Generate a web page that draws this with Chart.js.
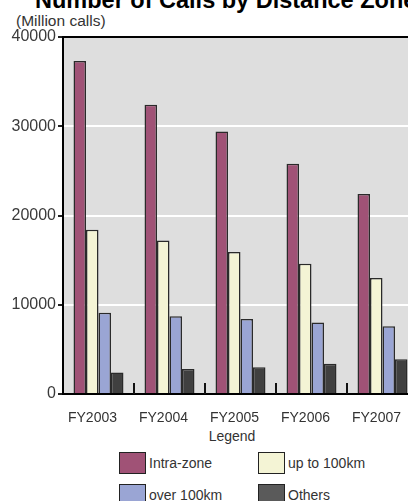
<!DOCTYPE html>
<html>
<head>
<meta charset="utf-8">
<title>Number of Calls by Distance Zone</title>
<script src="https://cdn.jsdelivr.net/npm/chart.js@4.4.1/dist/chart.umd.min.js"></script>
<style>
  html, body { margin: 0; padding: 0; background: #fff; width: 408px; height: 501px; overflow: hidden; }
  body { position: relative; font-family: "Liberation Sans", Arial, sans-serif; }
  #title { position: absolute; left: 35px; top: -13px; font-size: 23.5px; font-weight: bold; color: #000; white-space: nowrap; line-height: 26px; }
  #unit { position: absolute; left: 16px; top: 12px; font-size: 15.5px; color: #333; line-height: 17px; }
  #wrap { position: absolute; left: 0; top: 0; width: 430px; height: 422px; }
  #legendTitle { position: absolute; left: 182px; width: 100px; top: 428px; text-align: center; font-size: 14px; color: #333; line-height: 16px; }
  #legend { position: absolute; left: 119px; top: 452px; display: grid; grid-template-columns: 139px auto; row-gap: 10px; }
  .item { display: flex; align-items: center; height: 22px; font-size: 14px; color: #333; }
  .box { width: 27px; height: 22px; box-sizing: border-box; border: 1.5px solid #222; margin-right: 3px; }
</style>
</head>
<body>
<div id="title">Number of Calls by Distance Zone</div>
<div id="unit">(Million calls)</div>
<div id="wrap"><canvas id="chart" width="430" height="422"></canvas></div>
<div id="legendTitle">Legend</div>
<div id="legend"></div>

<script>
// dados (milhões de chamadas)
const categories = ['FY2003', 'FY2004', 'FY2005', 'FY2006', 'FY2007'];
const intraZone = [37300, 32400, 29400, 25800, 22400];
const upTo100km = [18400, 17200, 15900, 14600, 13000];
const over100km = [9100, 8700, 8400, 8000, 7600];
const others = [2400, 2800, 3000, 3400, 3900];
const yTicks = [0, 10000, 20000, 30000, 40000];

const seriesNames = ['Intra-zone', 'up to 100km', 'over 100km', 'Others'];
const barColors = ['#a05276', '#f4f4d5', '#9aa5d4', '#404040'];
const legendColors = ['#a05276', '#f4f4d5', '#9aa5d4', '#5a5a5a'];

const fontFamily = '"Liberation Sans", Arial, sans-serif';

// fundo cinza da área do gráfico
const plotBackground = {
    id: 'plotBackground',
    beforeDraw(chart) {
        const { ctx, chartArea } = chart;
        ctx.save();
        ctx.fillStyle = '#dedede';
        ctx.fillRect(chartArea.left, chartArea.top, chartArea.right - chartArea.left, chartArea.bottom - chartArea.top);
        ctx.restore();
    }
};

// pequenas marcas entre as categorias, para dentro
const groupTicks = {
    id: 'groupTicks',
    afterDatasetsDraw(chart) {
        const { ctx, chartArea } = chart;
        const xScale = chart.scales.x;
        ctx.save();
        ctx.strokeStyle = '#111';
        ctx.lineWidth = 2;
        for (let i = 1; i < categories.length; i++) {
            const x = (xScale.getPixelForTick(i - 1) + xScale.getPixelForTick(i)) / 2;
            ctx.beginPath();
            ctx.moveTo(x, chartArea.bottom);
            ctx.lineTo(x, chartArea.bottom - 11);
            ctx.stroke();
        }
        ctx.restore();
    }
};

const seriesData = [intraZone, upTo100km, over100km, others];

new Chart(document.getElementById('chart'), {
    type: 'bar',
    data: {
        labels: categories,
        datasets: seriesData.map((d, i) => ({
            label: seriesNames[i],
            data: d,
            backgroundColor: barColors[i],
            borderColor: '#2a2a2a',
            borderWidth: 1.5
        }))
    },
    options: {
        responsive: false,
        animation: false,
        layout: { padding: { top: 37, right: 12, bottom: 0, left: 0 } },
        categoryPercentage: 0.704,
        barPercentage: 1,
        plugins: {
            legend: { display: false },
            tooltip: { enabled: false }
        },
        scales: {
            x: {
                grid: { display: false },
                border: { color: '#000', width: 2 },
                ticks: {
                    font: { size: 14, family: fontFamily },
                    color: '#333',
                    padding: 8,
                    labelOffset: -6,
                    maxRotation: 0,
                    autoSkip: false
                },
                afterFit(scale) { scale.height = 28; }
            },
            y: {
                min: 0,
                max: 40000,
                afterBuildTicks(scale) { scale.ticks = yTicks.map(v => ({ value: v })); },
                grid: {
                    color: c => (c.tick && (c.tick.value === 40000 || c.tick.value === 0)) ? '#000' : '#fff',
                    lineWidth: 2,
                    tickColor: '#222',
                    tickLength: 5
                },
                border: { color: '#000', width: 2 },
                ticks: {
                    font: { size: 16, family: fontFamily },
                    color: '#3a3a3a',
                    padding: 2,
                    callback: v => String(v)
                },
                afterFit(scale) { scale.width = 63; }
            }
        }
    },
    plugins: [plotBackground, groupTicks]
});

// legenda em HTML, duas colunas
const legendEl = document.getElementById('legend');
seriesNames.forEach((name, i) => {
    const item = document.createElement('div');
    item.className = 'item';
    const box = document.createElement('span');
    box.className = 'box';
    box.style.background = legendColors[i];
    item.appendChild(box);
    item.appendChild(document.createTextNode(name));
    legendEl.appendChild(item);
});
</script>
</body>
</html>
